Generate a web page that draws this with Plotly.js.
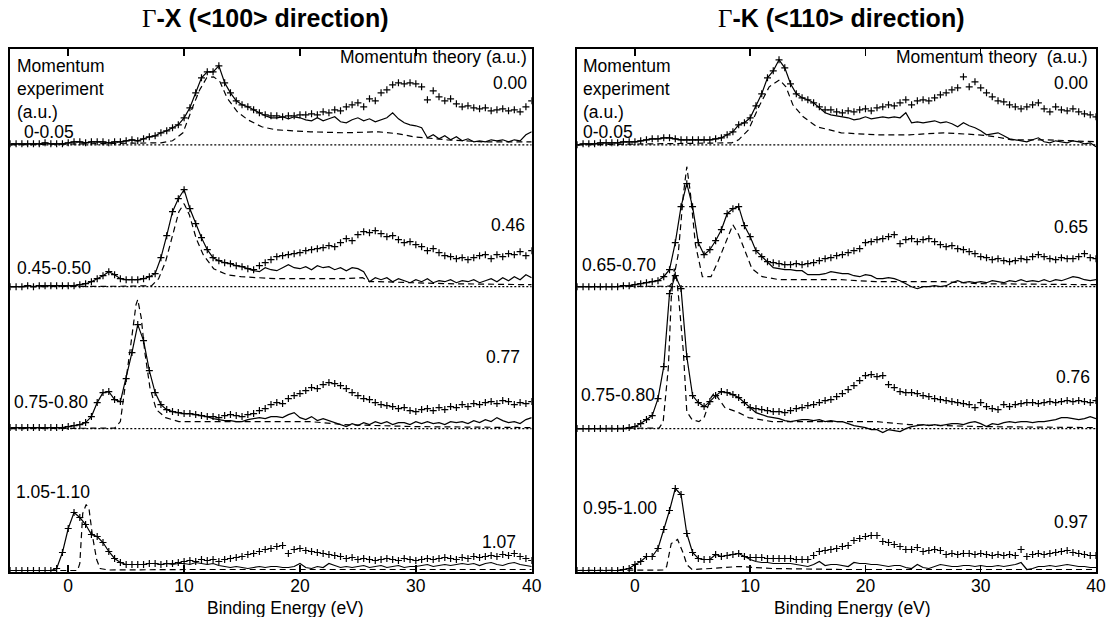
<!DOCTYPE html>
<html><head><meta charset="utf-8">
<script src="https://cdn.plot.ly/plotly-3.0.1.min.js"></script>
<style>html,body{margin:0;padding:0;background:#fff;} #chart{width:1106px;height:617px;}</style>
</head><body><div id="chart"></div>
<script>
// Binding energy grid (eV) shared by experimental spectra
const E = [-5,-4.5,-4,-3.5,-3,-2.5,-2,-1.5,-1,-0.5,
  0,0.5,1,1.5,2,2.5,3,3.5,4,4.5,
  5,5.5,6,6.5,7,7.5,8,8.5,9,9.5,
  10,10.5,11,11.5,12,12.5,13,13.5,14,14.5,
  15,15.5,16,16.5,17,17.5,18,18.5,19,19.5,
  20,20.5,21,21.5,22,22.5,23,23.5,24,24.5,
  25,25.5,26,26.5,27,27.5,28,28.5,29,29.5,
  30,30.5,31,31.5,32,32.5,33,33.5,34,34.5,
  35,35.5,36,36.5,37,37.5,38,38.5,39,39.5,
  40];

// ---------- Γ-X (<100>) ----------
// momentum 0-0.05 / theory 0.00
const GX1_EXP = [1,1,1,1,1,1,2,1,1,1, 2,3,3,2,3,3,3,2,3,3, 4,5,4,6,8,9,12,14,17,20, 27,37,52,67,73,73,79,62,52,44,
  40,38,35,32,30,29,29,28,29,29, 30,30,31,30,33,32,35,34,38,40, 42,38,46,44,52,55,60,62,61,62, 61,58,45,54,48,44,46,41,38,39, 37,36,37,34,35,36,34,35,33,38, 44];
const GX1_COR = [1,1,1,1,1,1,2,1,1,1, 2,3,3,2,3,3,3,2,3,3, 4,5,4,6,8,9,12,14,17,20, 27,37,52,67,73,73,79,62,52,44,
  40,38,35,32,29,27,27,28,26,28, 27,25,24,27,24,26,28,23,22,25, 27,24,26,23,25,27,32,26,22,20, 19,17,7,10,6,9,5,8,4,6, 3,4,3,5,4,5,3,5,4,10, 13];
const GX1_TH_E = [-5,0,5,8,9,9.9,10.75,11.35,11.95,12.55,13.1,13.7,14.6,15.5,16.7,17.9,20.9,23.8,26.8,28.5,29.8,32.7,35.7,40];
const GX1_TH   = [0,0.5,1,2,4,12,38,55,67,68,63,47,33,25,18,15,13,12,13,11,8,5,3,3];

// momentum 0.45-0.50 / theory 0.46
const GX2_EXP = [0,0,0,1,0,1,1,1,1,1, 1,1,2,3,5,8,11,15,12,8, 7,7,7,8,10,13,29,51,75,88, 97,78,63,49,37,29,26,24,23,21,
  20,18,17,21,24,27,30,31,32,33, 34,36,37,38,39,41,40,44,48,46, 52,55,54,56,53,50,51,47,44,45, 42,40,36,38,34,31,30,28,29,27, 29,31,32,28,32,30,33,32,35,31, 36];
const GX2_COR = [0,0,0,1,0,1,1,1,1,1, 1,1,2,3,5,8,11,15,12,8, 7,7,7,8,10,13,29,51,75,88, 97,78,63,49,37,29,26,24,23,21,
  20,18,16,15,19,17,16,19,22,19, 18,20,17,21,19,20,17,19,16,19, 18,15,5,9,7,9,5,8,6,4, 7,5,8,4,6,5,7,4,6,5, 7,4,6,8,5,9,6,10,7,12, 9];
const GX2_TH_E = [-5,0,5,7.2,7.8,8.4,9.0,9.55,10.0,10.45,11.05,11.65,12.55,13.7,14.9,17.9,23.8,25.4,26.0,26.8,32.7,40];
const GX2_TH   = [0,0,0.5,1,8,25,52,75,83,72,48,32,18,12,10,8,8,9,5,5,3,2];

// momentum 0.75-0.80 / theory 0.77
const GX3_EXP = [1,1,1,1,1,1,1,1,1,1, 2,3,4,6,12,26,36,37,29,27, 50,76,104,88,58,36,24,19,17,16, 15,15,14,13,12,12,11,13,14,13,
  12,14,15,18,20,24,26,25,30,33, 35,38,41,40,44,46,45,43,40,36, 33,30,29,26,24,23,22,20,21,18, 17,19,20,18,21,19,22,21,24,22, 25,24,26,27,25,28,27,24,26,25, 27];
const GX3_COR = [1,1,1,1,1,1,1,1,1,1, 2,3,4,6,12,26,36,37,29,27, 50,76,104,88,58,36,24,19,17,16, 15,15,14,13,12,10,9,8,8,7,
  7,9,10,11,10,12,12,11,14,16, 11,9,12,8,10,8,6,4,2,5, 3,6,4,7,5,7,4,6,6,4, 7,5,7,5,6,4,7,6,7,5, 8,6,9,7,11,8,6,7,5,9, 11];
const GX3_TH_E = [-5,0,4.0,4.5,4.95,5.4,5.85,6.0,6.3,6.6,7.05,7.6,8.4,9.55,11.9,17.9,20.9,23.8,29.8,40];
const GX3_TH   = [0,0,0.5,7,44,84,124,129,111,77,41,19,11,7,7,7,7,4,2,1];

// momentum 1.05-1.10 / theory 1.07
const GX4_EXP = [0,0,0,0,0,0,0,0,2,18, 42,58,53,46,36,34,28,19,12,8, 6,6,6,6,7,7,6,7,7,8, 9,10,9,11,10,11,9,11,12,13,
  14,16,17,19,21,22,24,25,17,21, 22,20,19,18,17,16,15,14,12,13, 11,12,11,10,11,12,11,10,12,11, 10,11,12,11,12,13,12,11,13,12, 14,13,14,15,14,16,15,17,14,12, 10];
const GX4_COR = [0,0,0,0,0,0,0,0,2,18, 42,58,53,46,36,34,28,19,12,8, 6,6,6,6,7,7,6,7,6,7, 7,6,8,7,6,7,5,4,3,4,
  3,2,3,4,3,4,4,3,3,4, 7,3,2,4,3,7,5,3,4,3, 4,5,3,4,5,3,4,5,3,4, 4,5,6,4,5,6,5,6,7,6, 7,5,7,8,6,5,7,8,6,5, 4];
const GX4_TH_E = [-5,0,0.8,1.0,1.25,1.55,1.8,2.1,2.45,2.75,3.5,10,20,30,40];
const GX4_TH   = [0,0,0,7,57,66,61,34,11,2,0.5,1,1,1,1];

// ---------- Γ-K (<110>) ----------
// momentum 0-0.05 / theory 0.00
const GK1_EXP = [0,1,1,1,2,2,2,2,3,3, 3,4,5,6,6,7,7,6,5,5, 5,5,5,5,6,7,10,13,20,22, 27,39,51,67,74,85,77,61,51,47,
  45,42,38,35,35,33,32,34,33,35, 36,34,37,38,40,39,42,45,40,44, 45,44,47,50,52,55,57,68,58,63, 57,52,48,44,43,40,38,36,38,40, 42,36,33,38,35,34,36,33,31,30, 28];
const GK1_COR = [0,1,1,1,2,2,2,2,3,3, 3,4,5,6,6,7,7,6,5,5, 5,5,5,5,6,7,10,13,20,22, 27,39,51,67,74,85,77,61,51,47,
  45,42,37,32,30,29,28,27,25,26, 28,26,27,28,27,28,27,32,22,23, 22,23,24,22,23,21,18,22,19,17, 14,10,11,12,9,6,5,4,3,5, 7,3,2,4,3,2,4,3,1,2, -2];
const GK1_TH_E = [-5,0,5,8.4,9.0,9.85,10.75,11.65,12.55,13.1,13.7,14.6,15.8,17.9,20.9,23.8,26.8,29.8,31.3,32.7,35.7,40];
const GK1_TH   = [0,0.5,1,2,5,15,38,58,65,58,40,28,18,12,10,10,12,10,8,5,5,3];

// momentum 0.65-0.70 / theory 0.65
const GK2_EXP = [0,0,0,0,0,0,0,0,1,1, 2,3,4,5,6,10,17,44,80,103, 80,44,32,37,46,57,73,78,80,61, 50,36,30,25,24,23,22,22,23,22,
  23,24,26,28,29,31,32,34,36,38, 44,45,47,48,50,52,43,47,48,45, 47,48,45,42,40,41,38,37,35,33, 30,29,27,28,26,25,26,28,27,30, 32,30,28,27,29,28,28,30,33,29, 28];
const GK2_COR = [0,0,0,0,0,0,0,0,1,1, 2,3,4,5,6,10,17,44,80,103, 80,44,32,37,46,57,73,78,80,61, 50,36,30,25,19,18,17,17,16,16,
  12,12,12,13,15,14,13,13,11,10, 12,11,8,8,9,8,6,3,0,-2, 0,0,1,0,1,4,6,4,5,4, 5,4,6,5,4,6,5,7,5,6, 5,7,5,7,6,8,10,9,7,6, 7];
const GK2_TH_E = [-5,0,3.0,3.3,3.75,4.2,4.5,4.8,5.25,5.85,6.6,7.2,7.9,8.5,9.0,9.55,10.15,11.05,12.55,17.9,20.9,26.8,29.8,40];
const GK2_TH   = [0,0,0.5,5,32,92,120,95,42,10,10,25,45,62,52,35,18,10,7,7,5,5,3,2];

// momentum 0.75-0.80 / theory 0.76
const GK3_EXP = [0,0,0,0,0,0,0,0,0,1, 2,5,9,13,30,62,135,153,140,72, 33,26,22,27,33,37,36,34,31,26, 21,20,19,18,17,17,16,18,20,21,
  23,24,26,28,29,32,35,39,43,48, 53,54,52,53,44,41,37,36,36,35, 33,32,30,29,28,27,26,25,24,21, 26,22,20,19,24,22,24,25,26,26, 25,26,27,26,27,28,27,28,27,26, 28];
const GK3_COR = [0,0,0,0,0,0,0,0,0,1, 2,5,9,13,30,62,135,153,140,72, 33,26,22,27,33,37,36,34,31,26, 21,16,14,12,11,10,8,7,8,9,
  9,8,9,7,8,7,7,5,3,2, 1,-1,-1,-4,-1,-2,-3,0,2,3, 4,3,4,3,4,5,5,4,6,7, 5,2,5,4,6,7,6,7,7,6, 7,7,8,9,11,11,10,9,10,12, 10];
const GK3_TH_E = [-5,0,2.1,2.45,2.9,3.15,3.4,3.6,3.8,4.2,4.5,4.95,5.55,6.0,6.6,6.9,7.8,9.0,9.85,11.9,20.9,23.8,29.8,40];
const GK3_TH   = [0,0,0.5,7,61,130,160,152,130,77,17,9,7,11,31,36,21,16,11,7,7,4,2,1];

// momentum 0.95-1.00 / theory 0.97
const GK4_EXP = [0,0,0,0,0,0,0,0,1,2, 6,9,14,14,22,41,60,82,76,37, 18,12,11,11,16,14,15,16,17,14, 13,13,13,12,12,12,12,12,11,11,
  11,15,19,20,21,22,24,25,30,32, 34,35,35,29,28,26,24,21,21,23, 19,20,21,20,16,17,16,17,17,16, 17,16,15,16,15,16,15,21,14,16, 17,16,17,18,19,20,18,17,16,15, 15];
const GK4_COR = [0,0,0,0,0,0,0,0,1,2, 6,9,14,14,22,41,60,82,76,37, 18,12,11,11,16,14,15,16,17,14, 11,9,8,8,7,7,7,7,6,5,
  4,6,9,5,6,6,5,4,8,7, 7,6,6,5,4,5,5,3,2,6, 3,2,4,6,5,4,4,5,5,4, 5,4,4,5,4,5,6,8,1,2, 4,4,5,4,5,6,5,4,4,3, 3];
const GK4_TH_E = [-5,0,2.5,2.75,3.15,3.7,4.2,4.5,4.95,6.6,9.0,11.9,17.9,40];
const GK4_TH   = [0,0,0.5,4,27,31,17,6,1,2,4,2,1,1];

// Labels
const TITLES = ['Γ', '-X (&lt;100&gt; direction)', '-K (&lt;110&gt; direction)'];
const GX_EXP_LABELS = ['0-0.05', '0.45-0.50', '0.75-0.80', '1.05-1.10'];
const GX_TH_LABELS  = ['0.00', '0.46', '0.77', '1.07'];
const GK_EXP_LABELS = ['0-0.05', '0.65-0.70', '0.75-0.80', '0.95-1.00'];
const GK_TH_LABELS  = ['0.00', '0.65', '0.76', '0.97'];
const X_TICKS = [0, 10, 20, 30, 40];

// ---------- build ----------
const W = 1106, H = 617;
const SEC = 141.9;            // vertical spacing of stacked spectra (data units)
const FONT = 'Liberation Sans, Arial, Helvetica, sans-serif';
const panels = [
  {xa:'x', ya:'y', sets:[[GX1_EXP,GX1_COR,GX1_TH_E,GX1_TH,3],[GX2_EXP,GX2_COR,GX2_TH_E,GX2_TH,2],[GX3_EXP,GX3_COR,GX3_TH_E,GX3_TH,1],[GX4_EXP,GX4_COR,GX4_TH_E,GX4_TH,0]]},
  {xa:'x2', ya:'y2', sets:[[GK1_EXP,GK1_COR,GK1_TH_E,GK1_TH,3],[GK2_EXP,GK2_COR,GK2_TH_E,GK2_TH,2],[GK3_EXP,GK3_COR,GK3_TH_E,GK3_TH,1],[GK4_EXP,GK4_COR,GK4_TH_E,GK4_TH,0]]}
];
const traces = [];
const shapes = [];
panels.forEach(p => {
  p.sets.forEach(([ex, co, te, th, lv]) => {
    const off = lv * SEC;
    traces.push({x: te, y: th.map(v => v + off), xaxis: p.xa, yaxis: p.ya, mode: 'lines',
      line: {color: '#000', width: 1.2, dash: '6px,4px'}, hoverinfo: 'skip'});
    traces.push({x: E, y: co.map(v => v + off), xaxis: p.xa, yaxis: p.ya, mode: 'lines',
      line: {color: '#000', width: 1.2}, hoverinfo: 'skip'});
    traces.push({x: E, y: ex.map(v => v + off), xaxis: p.xa, yaxis: p.ya, mode: 'markers',
      marker: {symbol: 'cross-thin', size: 5, color: '#000', line: {color: '#000', width: 1.2}}, hoverinfo: 'skip'});
    if (lv > 0) {
      shapes.push({type: 'line', xref: p.xa, yref: p.ya, x0: -5, x1: 40, y0: off, y1: off,
        line: {color: '#000', width: 1.3, dash: '2px,2px'}});
    }
  });
});

function ann(text, px, py, xanchor, size, extra) {
  return Object.assign({xref: 'paper', yref: 'paper', x: px / W, y: 1 - py / H, xanchor: xanchor, yanchor: 'middle',
    showarrow: false, text: text, font: {family: FONT, size: size || 17.5, color: '#000'}}, extra || {});
}
const gamma = '<span style="font-family:Liberation Serif, Times New Roman, serif;font-weight:normal">' + TITLES[0] + '</span>';
const annotations = [
  ann(gamma + '<b>' + TITLES[1] + '</b>', 265, 18, 'center', 25),
  ann(gamma + '<b>' + TITLES[2] + '</b>', 841, 18, 'center', 25),
  ann('Momentum<br>experiment<br>(a.u.)', 15, 89, 'left', 17.5, {align: 'left'}),
  ann('Momentum<br>experiment<br>(a.u.)', 581, 89, 'left', 17.5, {align: 'left'}),
  ann('Momentum theory (a.u.)', 529, 57, 'right'),
  ann('Momentum theory\u00a0 (a.u.)', 1090, 57, 'right'),
  ann(GX_EXP_LABELS[0], 22, 132, 'left'),
  ann(GX_TH_LABELS[0], 529, 83, 'right'),
  ann(GX_TH_LABELS[1], 527, 225, 'right'),
  ann(GX_EXP_LABELS[1], 15, 268, 'left'),
  ann(GX_TH_LABELS[2], 522, 357, 'right'),
  ann(GX_EXP_LABELS[2], 12, 402, 'left'),
  ann(GX_EXP_LABELS[3], 14, 492, 'left'),
  ann(GX_TH_LABELS[3], 518, 542, 'right'),
  ann(GK_EXP_LABELS[0], 581, 132, 'left'),
  ann(GK_TH_LABELS[0], 1090, 83, 'right'),
  ann(GK_TH_LABELS[1], 1090, 227, 'right'),
  ann(GK_EXP_LABELS[1], 580, 265, 'left'),
  ann(GK_TH_LABELS[2], 1092, 377, 'right'),
  ann(GK_EXP_LABELS[2], 579, 395, 'left'),
  ann(GK_EXP_LABELS[3], 581, 508, 'left'),
  ann(GK_TH_LABELS[3], 1090, 522, 'right'),
  ann('Binding Energy (eV)', 285, 608, 'center'),
  ann('Binding Energy (eV)', 852, 608, 'center')
];

const xBase = {range: [-5, 40], tickvals: X_TICKS, ticktext: X_TICKS.map(String), ticks: 'inside', ticklen: 7, tickwidth: 1.5,
  tickcolor: '#000', showline: true, linewidth: 2, linecolor: '#000', mirror: 'ticks', showgrid: false, zeroline: false,
  ticklabelstandoff: -3, ticklabeloverflow: 'allow',
  tickfont: {family: FONT, size: 17.5, color: '#000'}, fixedrange: true};
const yBase = {range: [-1.5, 521.5], showline: true, linewidth: 2, linecolor: '#000', mirror: true, ticks: '',
  showticklabels: false, showgrid: false, zeroline: false, fixedrange: true};

const layout = {
  width: W, height: H, margin: {l: 0, r: 0, t: 0, b: 0}, paper_bgcolor: '#fff', plot_bgcolor: '#fff', showlegend: false,
  xaxis: Object.assign({}, xBase, {domain: [10.3 / W, 531.7 / W], anchor: 'y'}),
  yaxis: Object.assign({}, yBase, {domain: [45 / H, 568 / H], anchor: 'x'}),
  xaxis2: Object.assign({}, xBase, {domain: [577.3 / W, 1096 / W], anchor: 'y2'}),
  yaxis2: Object.assign({}, yBase, {domain: [45 / H, 568 / H], anchor: 'x2'}),
  shapes: shapes, annotations: annotations
};
Plotly.newPlot('chart', traces, layout, {staticPlot: true, displayModeBar: false});
</script></body></html>
